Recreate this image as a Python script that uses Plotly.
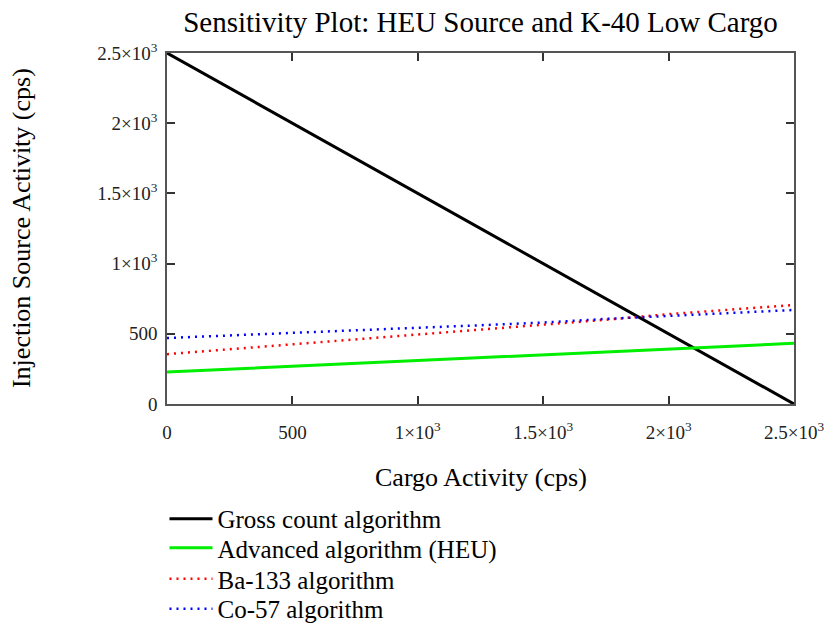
import plotly.graph_objects as go

# Cargo activity samples (cps)
cargo = [0, 250, 500, 750, 1000, 1250, 1500, 1750, 2000, 2250, 2500]

# Minimum detectable injection source activity (cps) for each algorithm
gross = [2500, 2250, 2000, 1750, 1500, 1250, 1000, 750, 500, 250, 0]
advanced = [228, 249, 270, 290, 310, 330, 350, 371, 392, 412, 432]
ba133 = [355, 390, 425, 458, 492, 526, 560, 600, 640, 672, 705]
co57 = [470, 487, 505, 524, 543, 561, 580, 606, 628, 649, 670]

tick_vals = [0, 500, 1000, 1500, 2000, 2500]
tick_text = ["0", "500", "1×10<sup>3</sup>", "1.5×10<sup>3</sup>",
             "2×10<sup>3</sup>", "2.5×10<sup>3</sup>"]

serif = "Liberation Serif, Times New Roman, serif"
dotted = "2px,5px"

fig = go.Figure()
fig.add_trace(go.Scatter(x=cargo, y=gross, mode="lines", name="Gross count algorithm",
                         legend="legend", line=dict(color="black", width=3)))
fig.add_trace(go.Scatter(x=cargo, y=advanced, mode="lines", name="Advanced algorithm (HEU)",
                         legend="legend2", line=dict(color="#00ee00", width=3)))
fig.add_trace(go.Scatter(x=cargo, y=ba133, mode="lines", name="Ba-133 algorithm",
                         legend="legend3", line=dict(color="red", width=2.5, dash=dotted)))
fig.add_trace(go.Scatter(x=cargo, y=co57, mode="lines", name="Co-57 algorithm",
                         legend="legend4", line=dict(color="blue", width=2.5, dash=dotted)))

axis_common = dict(
    range=[0, 2500], tickvals=tick_vals, ticktext=tick_text,
    showgrid=False, zeroline=False, showline=True, linecolor="#555555", linewidth=1.5,
    mirror="ticks", ticks="inside", ticklen=8, tickcolor="#333333", tickwidth=1.5,
    tickfont=dict(family=serif, size=19, color="#222222"),
)


def legend_row(y):
    # one legend box per entry so the rows sit at a fixed spacing
    return dict(x=-0.004, y=y, xanchor="left", yanchor="middle", itemwidth=43,
                font=dict(family=serif, size=25, color="black"),
                bgcolor="rgba(0,0,0,0)")


fig.update_layout(
    width=832, height=627,
    margin=dict(l=167, r=38, t=53, b=223, autoexpand=False),
    paper_bgcolor="white", plot_bgcolor="white",
    title=dict(text="Sensitivity Plot: HEU Source and K-40 Low Cargo",
               font=dict(family=serif, size=29, color="black"),
               x=0.5, xref="paper", xanchor="center", y=0.965, yanchor="middle"),
    xaxis=dict(**axis_common, ticklabelstandoff=10),
    yaxis=dict(**axis_common, ticklabelstandoff=4),
    showlegend=True,
    legend=legend_row(-0.3276),
    legend2=legend_row(-0.4103),
    legend3=legend_row(-0.4986),
    legend4=legend_row(-0.5840),
    annotations=[
        dict(text="Cargo Activity (cps)", xref="paper", yref="paper", x=0.5, y=-0.21,
             xanchor="center", yanchor="middle", showarrow=False,
             font=dict(family=serif, size=26, color="black")),
        dict(text="Injection Source Activity (cps)", xref="paper", yref="paper",
             x=-0.232, y=0.5, xanchor="center", yanchor="middle", showarrow=False,
             textangle=-90, font=dict(family=serif, size=26, color="black")),
    ],
)

fig.write_html("out.html")
